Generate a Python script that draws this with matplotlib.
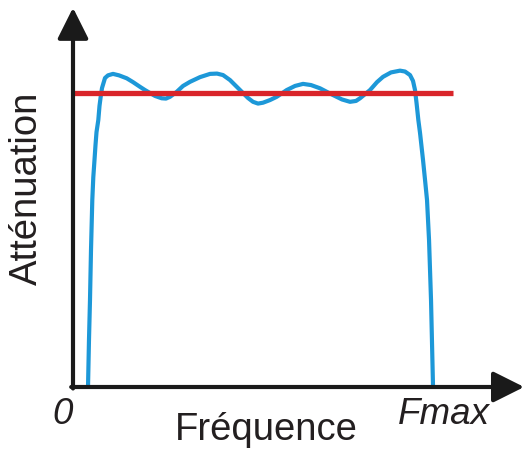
import matplotlib
matplotlib.use('Agg')
import matplotlib.pyplot as plt

plt.rcParams['font.family'] = ['Liberation Sans', 'DejaVu Sans']

# frequency axis: 0 .. Fmax = 100, attenuation normalised so the template line = 1
freq = [4.17, 4.44, 4.72, 5.0, 5.36, 5.64, 5.97, 6.25, 6.53, 7.03, 7.36, 7.69, 8.06,
        8.89, 9.72, 11.11, 12.78, 14.92, 16.67, 18.61, 20.0, 21.39, 22.78, 24.64,
        25.83, 26.94, 28.81, 30.56, 32.5, 35.28, 38.06, 40.0, 41.67, 43.61, 45.0,
        47.22, 48.61, 50.0, 51.39, 52.78, 54.72, 56.58, 59.36, 61.67, 63.89, 66.11,
        68.61, 72.22, 74.72, 76.94, 78.61, 79.72, 82.5, 84.44, 86.11, 88.33, 90.83,
        92.22, 93.61, 94.44, 95.0, 95.42, 95.92, 96.39, 97.22, 97.78, 98.33, 98.89,
        99.44, 100.0]
atten = [0.0, 0.160, 0.296, 0.466, 0.636, 0.714, 0.772, 0.823, 0.867, 0.908, 0.956,
         0.987, 1.017, 1.051, 1.060, 1.065, 1.060, 1.050, 1.037, 1.021, 1.010, 1.0,
         0.990, 0.982, 0.981, 0.987, 1.004, 1.024, 1.038, 1.054, 1.065, 1.066, 1.061,
         1.044, 1.027, 1.0, 0.983, 0.970, 0.964, 0.967, 0.976, 0.987, 1.010, 1.024,
         1.031, 1.027, 1.016, 0.993, 0.978, 0.970, 0.973, 0.982, 1.010, 1.037, 1.055,
         1.070, 1.076, 1.073, 1.061, 1.041, 1.010, 0.966, 0.908, 0.864, 0.772, 0.704,
         0.636, 0.5, 0.296, 0.0]

template_x = [0, 105.6]
template_y = [1.0, 1.0]

fig = plt.figure(figsize=(5.27, 4.5), dpi=100)
ax = fig.add_axes([73 / 527, 63 / 450, 454 / 527, 380 / 450])
ax.set_xlim(0, 126.1)
ax.set_ylim(0, 1.2925)
ax.axis('off')

ax.plot(freq, atten, color='#1d98d8', lw=3, solid_joinstyle='round', solid_capstyle='round', zorder=2)
ax.plot(template_x, template_y, color='#d9252a', lw=3.8, solid_capstyle='butt', zorder=3)

arrow = dict(arrowstyle='-|>,head_length=1.0,head_width=0.5', lw=3, color='#1a1a1a',
             mutation_scale=19, shrinkA=0, shrinkB=0)
ax.annotate('', xy=(0, 1.29), xytext=(0, -0.005), arrowprops=arrow, annotation_clip=False)
ax.annotate('', xy=(125.3, 0), xytext=(-0.5, 0), arrowprops=arrow, annotation_clip=False)

ink = '#231f20'
fig.text(27 / 527, 1 - 188 / 450, 'Atténuation', rotation=90, ha='center', va='center',
         fontsize=27.5, color=ink)
fig.text(266 / 527, 1 - 439.5 / 450, 'Fréquence', ha='center', va='baseline',
         fontsize=27.5, color=ink)
fig.text(62.5 / 527, 1 - 423.5 / 450, '0', ha='center', va='baseline',
         fontsize=26.5, style='italic', color=ink)
fig.text(444 / 527, 1 - 423.5 / 450, 'Fmax', ha='center', va='baseline',
         fontsize=26.5, style='italic', color=ink)

fig.savefig('out.png', dpi=100, facecolor='white')
